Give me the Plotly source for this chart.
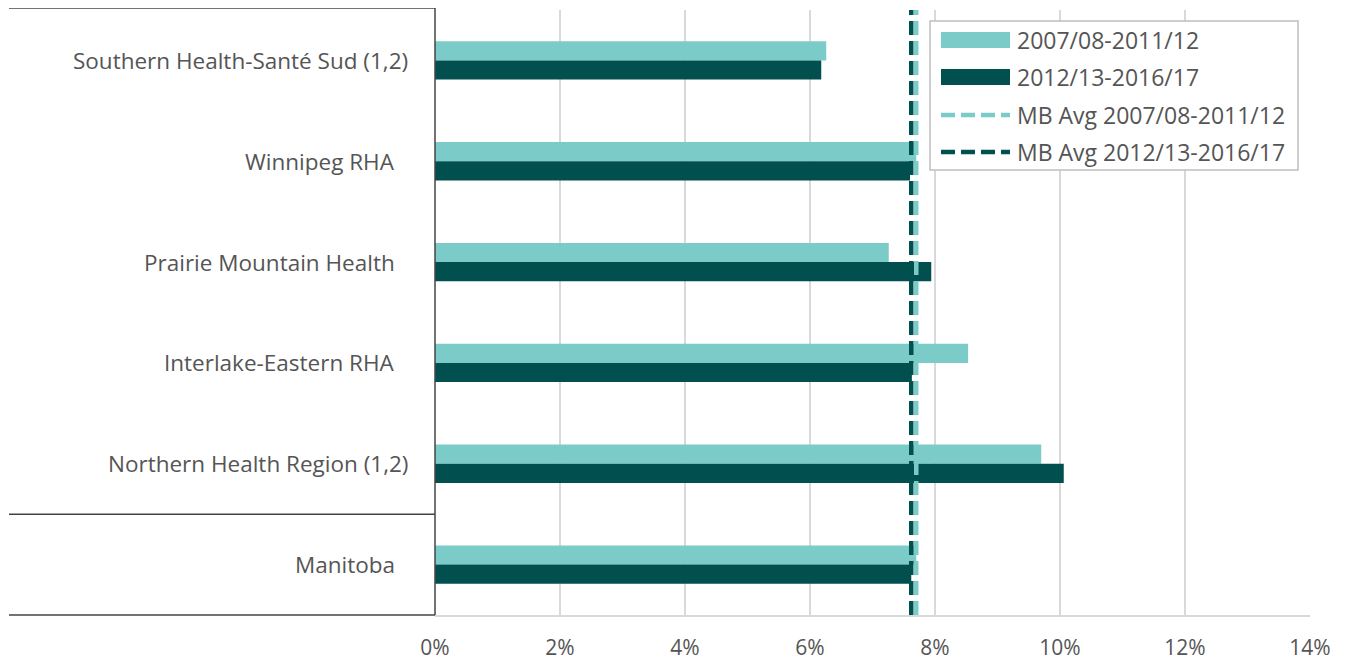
import plotly.graph_objects as go

# ---- data ----
regions = [
    "Southern Health-Santé Sud (1,2)",
    "Winnipeg RHA",
    "Prairie Mountain Health",
    "Interlake-Eastern RHA",
    "Northern Health Region (1,2)",
    "Manitoba",
]
period1_label = "2007/08-2011/12"
period2_label = "2012/13-2016/17"
avg1_label = "MB Avg 2007/08-2011/12"
avg2_label = "MB Avg 2012/13-2016/17"
period1 = [6.26, 7.70, 7.26, 8.53, 9.70, 7.70]
period2 = [6.18, 7.60, 7.94, 7.63, 10.06, 7.62]
mb_avg1 = 7.70
mb_avg2 = 7.62
x_ticks = [0, 2, 4, 6, 8, 10, 12, 14]
x_ticktext = [f"{v}%" for v in x_ticks]

# ---- style ----
LIGHT = "#7BCBC9"
DARK = "#01504F"
TXT = "#555555"
FONT = "Open Sans"
OFF = 8  # page body margin of the html page
W, H = 1346 - OFF, 662 - OFF
# plot area in page pixels: x 435..1310, y 10..615
L, R, T, B = 435 - OFF, 1346 - 1310, 10 - OFF, 662 - 615
PW, PH = W - L - R, H - T - B


def px(xp):
    return (xp - OFF - L) / PW


def py(yp):
    return (H - B - (yp - OFF)) / PH


fig = go.Figure()
fig.add_trace(go.Bar(y=regions, x=period1, orientation="h", name=period1_label,
                     marker=dict(color=LIGHT, line=dict(width=0))))
fig.add_trace(go.Bar(y=regions, x=period2, orientation="h", name=period2_label,
                     marker=dict(color=DARK, line=dict(width=0))))

shapes = []
# MB average dashed lines
shapes.append(dict(type="line", xref="x", yref="paper", x0=mb_avg2, x1=mb_avg2, y0=0, y1=1,
                   line=dict(color=DARK, width=4.5, dash="14px,6px"), layer="above"))
shapes.append(dict(type="line", xref="x", yref="paper", x0=mb_avg1, x1=mb_avg1, y0=0, y1=1,
                   line=dict(color=LIGHT, width=4.5, dash="14px,6px"), layer="above"))

# left label box
BOX = "#444444"
shapes.append(dict(type="line", xref="paper", yref="paper", x0=px(9), x1=0, y0=py(8), y1=py(8),
                   line=dict(color=BOX, width=1.5)))
shapes.append(dict(type="line", xref="paper", yref="paper", x0=px(9), x1=0, y0=1 / 6, y1=1 / 6,
                   line=dict(color=BOX, width=1.5)))
shapes.append(dict(type="line", xref="paper", yref="paper", x0=px(9), x1=0, y0=0, y1=0,
                   line=dict(color=BOX, width=1.5)))
shapes.append(dict(type="line", xref="paper", yref="paper", x0=0, x1=0, y0=0, y1=py(8),
                   line=dict(color=BOX, width=1.5), layer="above"))

# legend box
shapes.append(dict(type="rect", xref="paper", yref="paper", x0=px(930), x1=px(1298),
                   y0=py(170), y1=py(21), fillcolor="white",
                   line=dict(color="#BFBFBF", width=1.5), layer="above"))
leg_rows = [40, 77, 115, 152]
shapes.append(dict(type="rect", xref="paper", yref="paper", x0=px(941), x1=px(1010),
                   y0=py(48), y1=py(32), fillcolor=LIGHT, line=dict(width=0), layer="above"))
shapes.append(dict(type="rect", xref="paper", yref="paper", x0=px(941), x1=px(1010),
                   y0=py(85), y1=py(69), fillcolor=DARK, line=dict(width=0), layer="above"))
shapes.append(dict(type="line", xref="paper", yref="paper", x0=px(941), x1=px(1010),
                   y0=py(115), y1=py(115), line=dict(color=LIGHT, width=4.5, dash="14px,6px"),
                   layer="above"))
shapes.append(dict(type="line", xref="paper", yref="paper", x0=px(941), x1=px(1010),
                   y0=py(152), y1=py(152), line=dict(color=DARK, width=4.5, dash="14px,6px"),
                   layer="above"))

annotations = []
for txt, yy in zip([period1_label, period2_label, avg1_label, avg2_label], leg_rows):
    annotations.append(dict(text=txt, xref="paper", yref="paper", x=px(1015), y=py(yy),
                            xanchor="left", yanchor="middle", showarrow=False,
                            font=dict(family=FONT, size=23, color=TXT)))

# category labels
for name in regions:
    right_edge = 410 if "(1,2)" in name else 397
    annotations.append(dict(text=name, xref="paper", yref="y", x=px(right_edge), y=name,
                            xanchor="right", yanchor="middle", showarrow=False,
                            font=dict(family=FONT, size=22.5, color=TXT)))

fig.update_layout(
    width=W, height=H,
    margin=dict(l=L, r=R, t=T, b=B, autoexpand=False),
    paper_bgcolor="white", plot_bgcolor="white",
    barmode="group", bargap=0.62, bargroupgap=0,
    showlegend=False,
    shapes=shapes, annotations=annotations,
    font=dict(family=FONT, color=TXT),
)
fig.update_xaxes(range=[0, 14], tickmode="array", tickvals=x_ticks, ticktext=x_ticktext,
                 showgrid=True, gridcolor="#D9D9D9", gridwidth=2,
                 zeroline=False, showline=True, linecolor="#D9D9D9", linewidth=2,
                 ticks="", ticklabelstandoff=13, automargin=False,
                 tickfont=dict(family=FONT, size=21, color=TXT))
fig.update_yaxes(type="category", autorange="reversed", showticklabels=False,
                 showgrid=False, zeroline=False, showline=False, automargin=False)

fig.write_html("out.html")
